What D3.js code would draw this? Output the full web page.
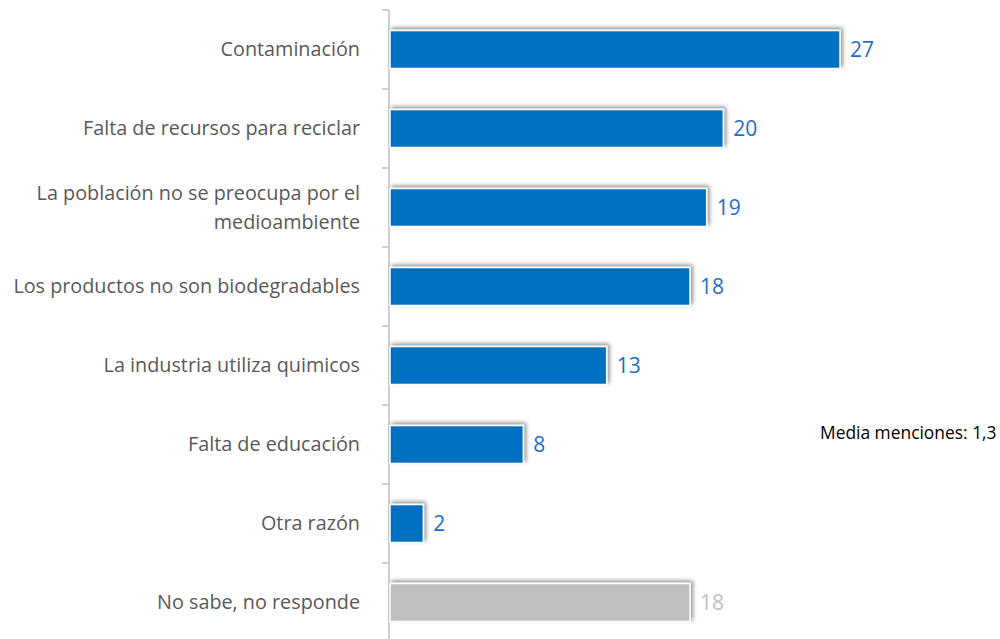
<!DOCTYPE html>
<html>
<head>
<meta charset="utf-8">
<script src="https://cdn.jsdelivr.net/npm/d3@7"></script>
<style>
  body { margin: 0; background: #fff; }
  svg { display: block; }
</style>
</head>
<body>
<div class="chart"></div>
<script>
var categories = [
  ["Contaminación"],
  ["Falta de recursos para reciclar"],
  ["La población no se preocupa por el", "medioambiente"],
  ["Los productos no son biodegradables"],
  ["La industria utiliza quimicos"],
  ["Falta de educación"],
  ["Otra razón"],
  ["No sabe, no responde"]
];
var values = [27, 20, 19, 18, 13, 8, 2, 18];
var barColors = ["#0070C0", "#0070C0", "#0070C0", "#0070C0", "#0070C0", "#0070C0", "#0070C0", "#BFBFBF"];
var labelColors = ["#1F6FC0", "#1F6FC0", "#1F6FC0", "#1F6FC0", "#1F6FC0", "#1F6FC0", "#1F6FC0", "#BFBFBF"];
var note = "Media menciones: 1,3";

var W = 1000, H = 639;
var axisX = 389, topY = 10, band = 79;

var svg = d3.select('.chart').append('svg')
  .attr('width', W)
  .attr('height', H);

// shadow like the office chart
var defs = svg.append('defs');
var f = defs.append('filter').attr('id', 'shadow')
  .attr('x', '-10%').attr('y', '-40%').attr('width', '130%').attr('height', '180%');
f.append('feDropShadow')
  .attr('dx', 2).attr('dy', -2)
  .attr('stdDeviation', 2.2)
  .attr('flood-color', '#000')
  .attr('flood-opacity', 0.45);

var idx = d3.range(values.length);

var y = d3.scaleBand()
  .domain(idx)
  .range([topY, topY + band * values.length])
  .paddingInner(0.52)
  .paddingOuter(0.26);

var x = d3.scaleLinear()
  .domain([0, 27])
  .range([axisX + 1, 840]);

// axis line and ticks at band edges
var g = svg.append('g');
g.append('line')
  .attr('x1', axisX).attr('x2', axisX)
  .attr('y1', topY).attr('y2', H)
  .attr('stroke', '#BFBFBF').attr('stroke-width', 1.5);

var edges = d3.range(values.length + 1).map(function(i) { return topY + i * band; });
g.selectAll('.tick').data(edges).enter().append('line')
  .attr('x1', axisX - 7).attr('x2', axisX)
  .attr('y1', function(d) { return d; })
  .attr('y2', function(d) { return d; })
  .attr('stroke', '#BFBFBF').attr('stroke-width', 1.5);

// bars
svg.selectAll('.bar').data(idx).enter().append('rect')
  .attr('x', x(0))
  .attr('y', function(i) { return y(i); })
  .attr('width', function(i) { return x(values[i]) - x(0); })
  .attr('height', y.bandwidth())
  .attr('fill', function(i) { return barColors[i]; })
  .attr('stroke', '#fff')
  .attr('stroke-width', 1.5)
  .attr('filter', 'url(#shadow)');

// value labels
svg.selectAll('.val').data(idx).enter().append('text')
  .attr('x', function(i) { return x(values[i]) + 10; })
  .attr('y', function(i) { return y(i) + y.bandwidth() / 2; })
  .attr('dy', '0.36em')
  .attr('fill', function(i) { return labelColors[i]; })
  .style('font-family', 'Open Sans')
  .style('font-size', '21px')
  .text(function(i) { return values[i]; });

// category labels
var cat = svg.selectAll('.cat').data(idx).enter().append('text')
  .attr('text-anchor', 'end')
  .attr('fill', '#595959')
  .style('font-family', 'Open Sans')
  .style('font-size', '19.8px')
  .attr('y', function(i) {
    var n = categories[i].length;
    return y(i) + y.bandwidth() / 2 - (n - 1) * 14.5;
  });
cat.selectAll('tspan').data(function(i) { return categories[i]; }).enter().append('tspan')
  .attr('x', 360)
  .attr('dy', function(d, j) { return j === 0 ? '0.35em' : '29px'; })
  .text(function(d) { return d; });

svg.append('text')
  .attr('x', 820).attr('y', 439)
  .attr('fill', '#000')
  .style('font-family', 'Open Sans')
  .style('font-size', '17.4px')
  .text(note);
</script>
</body>
</html>
